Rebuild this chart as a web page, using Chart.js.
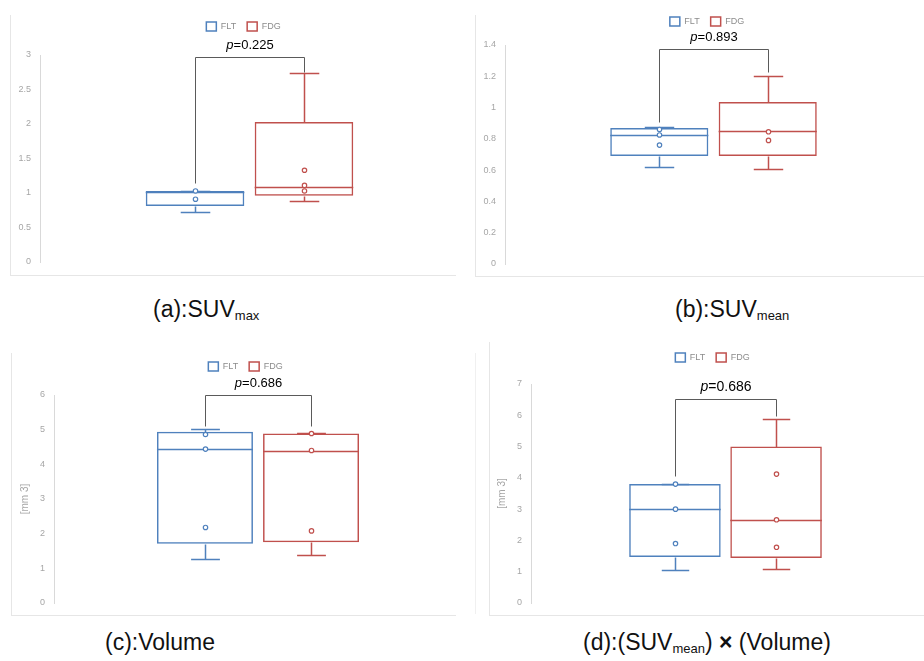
<!DOCTYPE html>
<html>
<head>
<meta charset="utf-8">
<title>FLT vs FDG box plots</title>
<script src="https://cdn.jsdelivr.net/npm/chart.js@4.4.1/dist/chart.umd.min.js"></script>
<style>
  html, body { margin: 0; padding: 0; background: #fff; }
  body { position: relative; width: 924px; height: 661px; overflow: hidden; font-family: "Liberation Sans", Arial, sans-serif; }
  .frame { position: absolute; box-sizing: border-box; border-left: 1px solid #e6e6e6; border-bottom: 1px solid #e6e6e6; }
  canvas { position: absolute; }
  .caption { position: absolute; font-size: 23px; line-height: 26px; color: #111; white-space: nowrap; }
  .caption sub { font-size: 13px; line-height: 0; vertical-align: -3px; }
</style>
</head>
<body>
<div class="frame" style="left:10px;top:15px;width:446px;height:261px"></div>
<div class="frame" style="left:475px;top:15px;width:449px;height:262px"></div>
<div class="frame" style="left:11px;top:353px;width:445px;height:263px"></div>
<div class="frame" style="left:475px;top:353px;width:14px;height:261px;border-bottom:none;border-left-color:#f0f0f0"></div>
<div class="frame" style="left:489px;top:342px;width:435px;height:274px"></div>

<canvas id="chartA" width="471" height="280" style="left:0;top:0"></canvas>
<canvas id="chartB" width="461" height="280" style="left:470px;top:0"></canvas>
<canvas id="chartC" width="465" height="290" style="left:0;top:330px"></canvas>
<canvas id="chartD" width="454" height="290" style="left:470px;top:330px"></canvas>

<div class="caption" style="left:153px;top:296px">(a):SUV<sub>max</sub></div>
<div class="caption" style="left:675px;top:296px">(b):SUV<sub>mean</sub></div>
<div class="caption" style="left:105px;top:629px">(c):Volume</div>
<div class="caption" style="left:583px;top:629px">(d):(SUV<sub>mean</sub>) <b>×</b> (Volume)</div>

<script>
const groups = ['FLT', 'FDG'];
const groupColors = ['#4f81bd', '#c0504d'];
const pValues = ['0.225', '0.893', '0.686', '0.686'];

// (a) SUVmax
const suvMaxLow = [0.72, 0.88];
const suvMaxQ1 = [0.81, 0.96];
const suvMaxMedian = [1.02, 1.09];
const suvMaxQ3 = [1.03, 2.03];
const suvMaxHigh = [1.03, 2.74];
const suvMaxPoints = [[1.03, 0.91], [1.33, 1.11, 1.03]];
const suvMaxBracket = [2.97, 1.15, 2.75];   // top, left leg end, right leg end
const suvMaxAxis = [0, 3, 0.5];             // min, max, step

// (b) SUVmean
const suvMeanLow = [0.62, 0.605];
const suvMeanQ1 = [0.69, 0.69];
const suvMeanMedian = [0.825, 0.85];
const suvMeanQ3 = [0.87, 1.035];
const suvMeanHigh = [0.875, 1.2];
const suvMeanPoints = [[0.86, 0.825, 0.76], [0.845, 0.79]];
const suvMeanBracket = [1.375, 0.905, 1.225];
const suvMeanAxis = [0, 1.4, 0.2];

// (c) Volume
const volumeLow = [1.26, 1.38];
const volumeQ1 = [1.71, 1.75];
const volumeMedian = [4.45, 4.38];
const volumeQ3 = [4.94, 4.89];
const volumeHigh = [5.02, 4.89];
const volumePoints = [[4.86, 4.44, 2.18], [4.89, 4.4, 2.08]];
const volumeBracket = [6.0, 5.1, 5.1];
const volumeAxis = [0, 6, 1];

// (d) SUVmean x Volume
const productLow = [1.05, 1.08];
const productQ1 = [1.47, 1.44];
const productMedian = [2.99, 2.65];
const productQ3 = [3.8, 5.0];
const productHigh = [3.8, 5.89];
const productPoints = [[3.8, 3.0, 1.9], [4.12, 2.66, 1.78]];
const productBracket = [6.53, 4.06, 5.98];
const productAxis = [0, 7, 1];

const FONT = '"Liberation Sans", Arial, sans-serif';

// whiskers, medians, inner points, significance bracket
function boxPlotExtras(stats, bracket, pValue, pSize) {
    return {
        id: 'boxPlotExtras',
        afterDatasetsDraw(chart) {
            const ctx = chart.ctx;
            const yScale = chart.scales.y;
            const py = v => Math.round(yScale.getPixelForValue(v)) + 0.5;
            const bars = chart.data.datasets.map((ds, i) => chart.getDatasetMeta(i).data[0]);

            ctx.save();
            bars.forEach((bar, i) => {
                const s = stats[i];
                const x = Math.round(bar.x) + 0.5;
                const half = bar.width / 2;
                const cap = bar.width * 0.15;
                ctx.strokeStyle = groupColors[i];
                ctx.lineWidth = 1.5;
                ctx.beginPath();
                ctx.moveTo(x, py(s.q3)); ctx.lineTo(x, py(s.high));
                ctx.moveTo(x - cap, py(s.high)); ctx.lineTo(x + cap, py(s.high));
                ctx.moveTo(x, py(s.q1)); ctx.lineTo(x, py(s.low));
                ctx.moveTo(x - cap, py(s.low)); ctx.lineTo(x + cap, py(s.low));
                ctx.moveTo(bar.x - half, py(s.median)); ctx.lineTo(bar.x + half, py(s.median));
                ctx.stroke();

                ctx.lineWidth = 1.2;
                ctx.fillStyle = '#fff';
                s.points.forEach(v => {
                    ctx.beginPath();
                    ctx.arc(x, yScale.getPixelForValue(v), 2.2, 0, Math.PI * 2);
                    ctx.fill();
                    ctx.stroke();
                });
            });

            const x0 = Math.round(bars[0].x) + 0.5;
            const x1 = Math.round(bars[1].x) + 0.5;
            ctx.strokeStyle = '#5a5a5a';
            ctx.lineWidth = 1;
            ctx.beginPath();
            ctx.moveTo(x0, py(bracket[1]));
            ctx.lineTo(x0, py(bracket[0]));
            ctx.lineTo(x1, py(bracket[0]));
            ctx.lineTo(x1, py(bracket[2]));
            ctx.stroke();

            const yText = py(bracket[0]) - 12;
            const italic = `italic ${pSize}px ${FONT}`;
            const normal = `${pSize}px ${FONT}`;
            ctx.font = italic;
            const wp = ctx.measureText('p').width;
            ctx.font = normal;
            const wr = ctx.measureText('=' + pValue).width;
            const xs = (x0 + x1) / 2 - (wp + wr) / 2;
            ctx.fillStyle = '#000';
            ctx.textAlign = 'left';
            ctx.textBaseline = 'middle';
            ctx.font = italic;
            ctx.fillText('p', xs, yText);
            ctx.font = normal;
            ctx.fillText('=' + pValue, xs + wp, yText);
            ctx.restore();
        }
    };
}

function buildStats(low, q1, median, q3, high, points) {
    return groups.map((g, i) => ({
        low: low[i], q1: q1[i], median: median[i], q3: q3[i], high: high[i], points: points[i]
    }));
}

function createBoxChart(canvasId, cfg) {
    const ctx = document.getElementById(canvasId).getContext('2d');
    const stats = buildStats(cfg.low, cfg.q1, cfg.median, cfg.q3, cfg.high, cfg.points);

    const scales = {
        x: { display: false },
        y: {
            min: cfg.axis[0],
            max: cfg.axis[1],
            ticks: {
                stepSize: cfg.axis[2],
                color: '#a6a6a6',
                padding: 9,
                font: { size: 9, family: FONT },
                callback: (value) => String(Math.round(value * 100) / 100)
            },
            grid: { display: false, drawTicks: false },
            border: { color: '#d9d9d9', width: 1 },
            title: cfg.yTitle ? {
                display: true,
                text: cfg.yTitle,
                color: '#a6a6a6',
                font: { size: 10, family: FONT },
                padding: { top: cfg.yTitleShift, bottom: 0 }
            } : { display: false },
            afterFit: (scale) => { scale.width = cfg.yWidth; }
        }
    };
    // empty right-hand axis: keeps the legend centred where the original had it
    if (cfg.rightGap) {
        scales.gapRight = {
            type: 'linear',
            axis: 'y',
            position: 'right',
            ticks: { display: false },
            grid: { display: false, drawTicks: false },
            border: { display: false },
            afterFit: (scale) => { scale.width = cfg.rightGap; }
        };
    }

    return new Chart(ctx, {
        type: 'bar',
        data: {
            labels: [''],
            datasets: groups.map((g, i) => ({
                label: g,
                data: [[cfg.q1[i], cfg.q3[i]]],
                backgroundColor: 'rgba(255,255,255,0)',
                borderColor: groupColors[i],
                borderWidth: 1.5,
                borderSkipped: false,
                categoryPercentage: 0.52,
                barPercentage: 0.905
            }))
        },
        options: {
            responsive: false,
            animation: false,
            devicePixelRatio: 1,
            layout: { padding: cfg.padding },
            scales,
            plugins: {
                legend: {
                    position: 'top',
                    weight: 1000,
                    labels: {
                        boxWidth: 10,
                        boxHeight: 9,
                        padding: 11,
                        color: '#8c8c8c',
                        font: { size: 9, family: FONT }
                    }
                },
                // empty title used as the gap between legend and plot
                title: {
                    display: true,
                    text: '',
                    weight: 500,
                    padding: 0,
                    font: { size: cfg.gap, lineHeight: 1 }
                },
                tooltip: { enabled: false }
            }
        },
        plugins: [boxPlotExtras(stats, cfg.bracket, cfg.pValue, cfg.pSize)]
    });
}

createBoxChart('chartA', {
    low: suvMaxLow, q1: suvMaxQ1, median: suvMaxMedian, q3: suvMaxQ3, high: suvMaxHigh,
    points: suvMaxPoints, bracket: suvMaxBracket, axis: suvMaxAxis, pValue: pValues[0], pSize: 13,
    padding: { left: 16, right: 0, top: 11, bottom: 18 }, yWidth: 24, rightGap: 12, gap: 14
});

createBoxChart('chartB', {
    low: suvMeanLow, q1: suvMeanQ1, median: suvMeanMedian, q3: suvMeanQ3, high: suvMeanHigh,
    points: suvMeanPoints, bracket: suvMeanBracket, axis: suvMeanAxis, pValue: pValues[1], pSize: 13,
    padding: { left: 13, right: 0, top: 6, bottom: 16 }, yWidth: 22, rightGap: 9, gap: 9
});

createBoxChart('chartC', {
    low: volumeLow, q1: volumeQ1, median: volumeMedian, q3: volumeQ3, high: volumeHigh,
    points: volumePoints, bracket: volumeBracket, axis: volumeAxis, pValue: pValues[2], pSize: 13,
    padding: { left: 29, right: 3, top: 21, bottom: 17 }, yWidth: 25, gap: 14,
    yTitle: '[mm 3]', yTitleShift: -10
});

createBoxChart('chartD', {
    low: productLow, q1: productQ1, median: productMedian, q3: productQ3, high: productHigh,
    points: productPoints, bracket: productBracket, axis: productAxis, pValue: pValues[3], pSize: 14,
    padding: { left: 35, right: 4, top: 12, bottom: 17 }, yWidth: 26, gap: 12,
    yTitle: '[mm 3]', yTitleShift: -9
});
</script>
</body>
</html>
